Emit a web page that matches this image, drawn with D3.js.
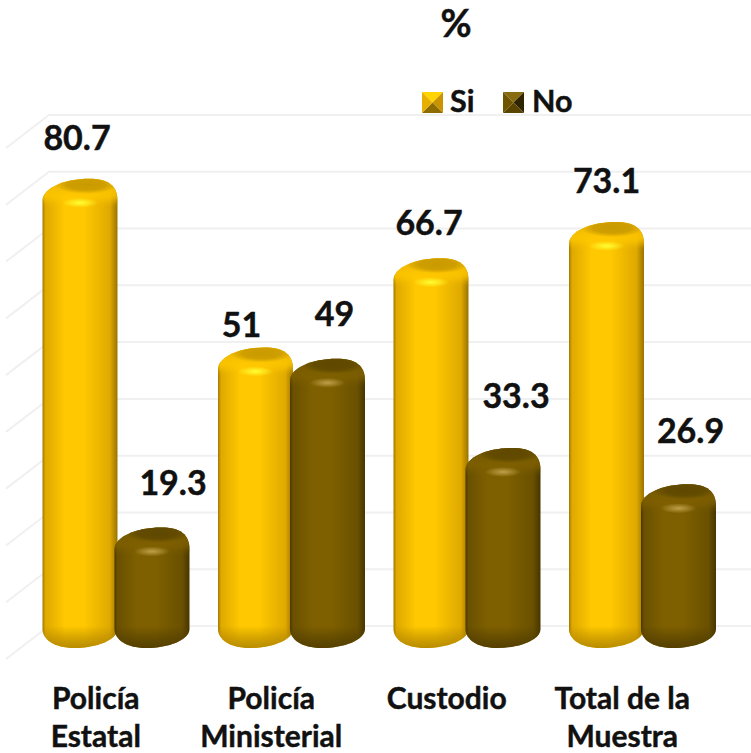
<!DOCTYPE html>
<html><head><meta charset="utf-8">
<script src="https://cdnjs.cloudflare.com/ajax/libs/d3/7.8.5/d3.min.js"></script>
<style>html,body{margin:0;padding:0;background:#fff}svg{display:block}text{font-family:Lato,"Open Sans",sans-serif;font-weight:700;fill:#111;stroke:#111;stroke-width:.45px}</style>
</head><body><script>
const categories=[["Policía","Estatal"],["Policía","Ministerial"],["Custodio"],["Total de la","Muestra"]];
const seriesNames=["Si","No"];
const siValues=[80.7,51,66.7,73.1];
const noValues=[19.3,49,33.3,26.9];
const gridTicks=[0,10,20,30,40,50,60,70,80,90];
const siLabelShift=[[-3,-29],[-14,-10],[-2,-23],[0,-29]];
const noLabelShift=[[21,-32],[7,-33],[13,-40],[12,-41]];

const W=751,H=753;
const svg=d3.select("body").append("svg").attr("width",W).attr("height",H);
const defs=svg.append("defs");
const palette={Si:{edge:"#a07800",mid:"#dfa900",main:"#ffc800",top:"#c99a00",hi:"#ffff33",bevelTop:"#e3ae00",bottom:"#b08500"},
               No:{edge:"#4a3800",mid:"#6a5000",main:"#7f6000",top:"#5f4800",hi:"#bfa04a",bevelTop:"#6e5300",bottom:"#4f3c00"}};
Object.entries(palette).forEach(([k,c])=>{
  const g=defs.append("linearGradient").attr("id","body"+k);
  [[0,c.edge],[.04,c.mid],[.3,c.main],[.55,c.main],[.9,c.mid],[.99,c.edge],[1,c.edge]].forEach(s=>g.append("stop").attr("offset",s[0]).attr("stop-color",s[1]));
  const b=defs.append("linearGradient").attr("id","bev"+k).attr("x1",0).attr("x2",0).attr("y1",0).attr("y2",1);
  [[0,c.bevelTop,1],[.7,c.main,.9],[1,c.main,0]].forEach(s=>b.append("stop").attr("offset",s[0]).attr("stop-color",s[1]).attr("stop-opacity",s[2]));
  const bb=defs.append("linearGradient").attr("id","bot"+k).attr("x1",0).attr("x2",0).attr("y1",0).attr("y2",1);
  [[0,c.bottom,0],[.5,c.bottom,.5],[1,c.bottom,.9]].forEach(s=>bb.append("stop").attr("offset",s[0]).attr("stop-color",s[1]).attr("stop-opacity",s[2]));
  const r=defs.append("radialGradient").attr("id","hi"+k);
  [[0,c.hi,1],[1,c.hi,0]].forEach(s=>r.append("stop").attr("offset",s[0]).attr("stop-color",s[1]).attr("stop-opacity",s[2]));
  const f=defs.append("radialGradient").attr("id","face"+k);
  [[0,c.top,1],[.6,c.top,.85],[1,c.top,0]].forEach(s=>f.append("stop").attr("offset",s[0]).attr("stop-color",s[1]).attr("stop-opacity",s[2]));
});
defs.append("filter").attr("id","soft").attr("x","-20%").attr("y","-40%").attr("width","140%").attr("height","180%")
  .append("feGaussianBlur").attr("stdDeviation",2.5);

const y=d3.scaleLinear().domain([0,90]).range([626,115]);
const x0=d3.scaleBand().domain(d3.range(categories.length)).range([28,730]);
const barW=75, barStep=72, depthX=43, depthY=33, barY0=648;
const topOf=v=>y(v)+11;
const colorX=i=>x0(i)+14.5;

// gridlines: back wall + left floor edge
const grid=svg.append("g").attr("fill","none").attr("stroke","#f0f0f0").attr("stroke-width",2);
grid.selectAll("path").data(gridTicks).join("path")
  .attr("d",t=>`M${49-depthX},${y(t)+depthY}L49,${y(t)}L${W},${y(t)}`);

const barPath=(l,t,w)=>{const r=l+w,b=barY0;
  return `M${l},${t+22}C${l},${t+9} ${l+w*.3},${t} ${l+w*.62},${t}C${l+w*.88},${t} ${r},${t+7} ${r},${t+22}`+
  `L${r},${b-19}C${r},${b-8} ${l+w*.72},${b} ${l+w*.42},${b}C${l+w*.15},${b} ${l},${b-9} ${l},${b-19}Z`;};

const marks=svg.append("g");
function drawBar(v,i,name,k){
  const l=colorX(i)+k*barStep, t=topOf(v), id=`clip${name}${i}`;
  defs.append("clipPath").attr("id",id).append("path").attr("d",barPath(l,t,barW));
  const g=marks.append("g");
  g.append("path").attr("d",barPath(l,t,barW)).attr("fill",`url(#body${name})`);
  const c=g.append("g").attr("clip-path",`url(#${id})`);
  c.append("rect").attr("x",l-4).attr("y",t-4).attr("width",barW+8).attr("height",30).attr("fill",`url(#bev${name})`).attr("filter","url(#soft)");
  c.append("rect").attr("x",l).attr("y",barY0-22).attr("width",barW).attr("height",22).attr("fill",`url(#bot${name})`);
  c.append("ellipse").attr("cx",l+barW*.58).attr("cy",t+6).attr("rx",barW*.42).attr("ry",9).attr("fill",`url(#face${name})`);
  c.append("ellipse").attr("cx",l+barW*.5).attr("cy",t+24).attr("rx",barW*.24).attr("ry",5).attr("fill",`url(#hi${name})`);
}
categories.forEach((_,i)=>{drawBar(siValues[i],i,"Si",0);drawBar(noValues[i],i,"No",1);});

// value labels
const lbl=svg.append("g").attr("text-anchor","middle").style("font-size","34px");
categories.forEach((_,i)=>{
  [[siValues,siLabelShift,0],[noValues,noLabelShift,1]].forEach(([vals,sh,k])=>{
    lbl.append("text").attr("x",colorX(i)+k*barStep+barW/2+sh[i][0]).attr("y",topOf(vals[i])+sh[i][1]).text(vals[i]);
  });
});

// category labels
const cat=svg.append("g").attr("text-anchor","middle").style("font-size","30px");
categories.forEach((lines,i)=>{
  const t=cat.append("text");
  lines.forEach((s,j)=>t.append("tspan").attr("x",x0(i)+x0.bandwidth()/2-20).attr("y",709+j*38).text(s));
});

// title
svg.append("text").attr("x",456).attr("y",37).attr("text-anchor","middle").style("font-size","38px").text("%");

// legend
const legendX=d3.scalePoint().domain(seriesNames).range([422,503]);
const tri={Si:["#ffd400","#c99400","#8f6c00","#e8b000"],No:["#8a6c10","#2f2400","#5a4500","#6f5500"]};
seriesNames.forEach(n=>{
  const a=legendX(n),s=21,b=92,cx=a+s/2,cy=b+s/2;
  const pts=[[a,b],[a+s,b],[a+s,b+s],[a,b+s]];
  pts.forEach((p,j)=>{const q=pts[(j+1)%4];
    svg.append("path").attr("d",`M${p}L${q}L${cx},${cy}Z`).attr("fill",tri[n][j]);});
  svg.append("text").attr("x",a+(n==="Si"?28:29)).attr("y",112).style("font-size","30.5px").text(n);
});
</script></body></html>
